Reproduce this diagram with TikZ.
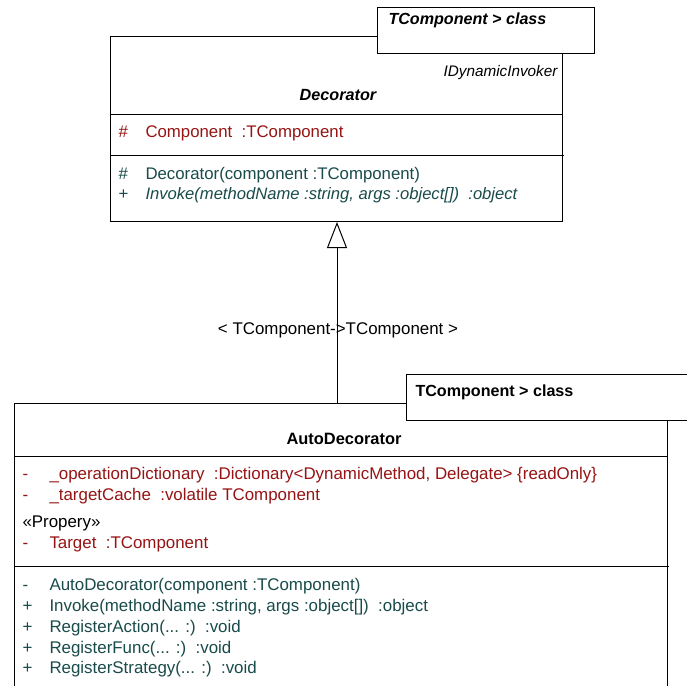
\documentclass[tikz,border=0pt]{standalone}
\usepackage{fontspec}
\setmainfont{Liberation Sans}
\usetikzlibrary{arrows.meta}
\definecolor{attrcol}{RGB}{150,20,20}
\definecolor{opcol}{RGB}{25,75,75}
\begin{document}
\begin{tikzpicture}[x=1pt,y=-1pt,line width=1pt,
  box/.style={draw,fill=white,anchor=north west,inner sep=0pt},
  txt/.style={inner sep=0pt,anchor=base west,font=\fontsize{16.8}{18}\selectfont},
  btxt/.style={inner sep=0pt,anchor=base west,font=\fontsize{16.9}{18}\selectfont},
  attr/.style={txt,text=attrcol},
  oper/.style={txt,text=opcol},
  battr/.style={btxt,text=attrcol},
  boper/.style={btxt,text=opcol}]
\useasboundingbox (0,0) rectangle (687,685);
\clip (0,0) rectangle (687,685);
\fill[white] (0,0) rectangle (687,685);

% Decorator class
\node[box,minimum width=452pt,minimum height=185pt] (dec) at (110,36) {};
\draw (dec.west |- 0,114) -- (dec.east |- 0,114);
\draw (dec.west |- 0,155) -- (564,155);
\node[box,minimum width=217pt,minimum height=46pt] (dectpl) at (377,7) {};
\node[txt,font=\fontsize{16.1}{18}\selectfont\bfseries\itshape] (dectpltxt) at (388,25) {TComponent > class};
\node[txt,anchor=base east,font=\fontsize{15.3}{18}\selectfont\itshape] (iface) at (558,76) {IDynamicInvoker};
\node[txt,anchor=base,font=\fontsize{16.2}{18}\selectfont\bfseries\itshape] (decname) at (338,100) {Decorator};
\node[attr] (dva) at (118,137) {\#};
\node[attr] (dna) at (145,137) {Component\ \ :TComponent};
\node[oper] (dvo1) at (118,179) {\#};
\node[oper] (dno1) at (145,179) {Decorator(component :TComponent)};
\node[oper] (dvo2) at (118,199) {+};
\node[oper,font=\fontsize{16.6}{18}\selectfont\itshape] (dno2) at (145,199) {Invoke(methodName :string, args :object[])\ \ :object};

% AutoDecorator class
\node[box,minimum width=653pt,minimum height=320pt] (auto) at (14,403) {};
\draw (auto.west |- 0,456) -- (auto.east |- 0,456);
\draw (auto.west |- 0,566) -- (669,566);
\node[box,minimum width=300pt,minimum height=46pt] (autotpl) at (406,374) {};
\node[txt,font=\fontsize{16.1}{18}\selectfont\bfseries] (autotpltxt) at (415,396) {TComponent > class};
\node[txt,anchor=base,font=\fontsize{16.4}{18}\selectfont\bfseries] (autoname) at (344,444) {AutoDecorator};
\node[battr] (ava1) at (22,479) {-};
\node[battr] (ana1) at (49,479) {\_operationDictionary\ \ :Dictionary<DynamicMethod, Delegate> \{readOnly\}};
\node[battr] (ava2) at (22,500) {-};
\node[battr] (ana2) at (49,500) {\_targetCache\ \ :volatile TComponent};
\node[btxt] (stereo) at (22,527) {«Propery»};
\node[battr] (ava3) at (22,548) {-};
\node[battr] (ana3) at (49,548) {Target\ \ :TComponent};
\node[boper] (avo1) at (22,590) {-};
\node[boper] (ano1) at (49,590) {AutoDecorator(component :TComponent)};
\node[boper] (avo2) at (22,611) {+};
\node[boper] (ano2) at (49,611) {Invoke(methodName :string, args :object[])\ \ :object};
\node[boper] (avo3) at (22,632) {+};
\node[boper] (ano3) at (49,632) {RegisterAction(... :)\ \ :void};
\node[boper] (avo4) at (22,653) {+};
\node[boper] (ano4) at (49,653) {RegisterFunc(... :)\ \ :void};
\node[boper] (avo5) at (22,673) {+};
\node[boper] (ano5) at (49,673) {RegisterStrategy(... :)\ \ :void};

% Generalization with template binding
\draw[-{Triangle[open,length=26pt,width=20pt]}] (auto.north -| 337,0) -- (dec.south -| 337,0);
\node[txt,anchor=base,font=\fontsize{16.9}{18}\selectfont] (bind) at (338,334) {< TComponent->TComponent >};
\end{tikzpicture}
\end{document}
